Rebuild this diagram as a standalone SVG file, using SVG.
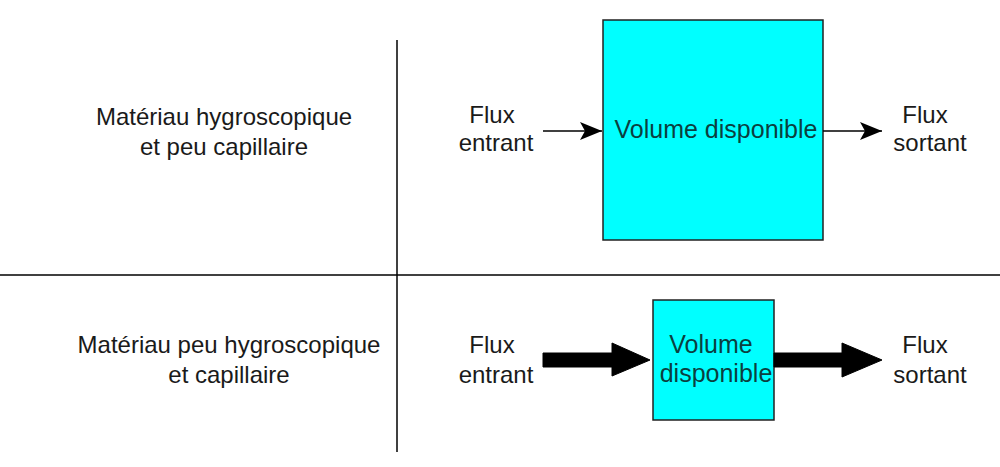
<svg xmlns="http://www.w3.org/2000/svg" width="1000" height="467" viewBox="0 0 1000 467">
  <style>
    .lbl { font-family: "Liberation Sans", Arial, sans-serif; font-size: 24px; fill: #1a1a1a; text-anchor: middle; }
    .box { fill: #00ffff; stroke: #222; stroke-width: 1.5; }
    .boxtxt { font-family: "Liberation Sans", Arial, sans-serif; font-size: 25px; fill: #0b3f3f; text-anchor: middle; }
    .sep { stroke: #000; stroke-width: 1.5; fill: none; }
    .thin { stroke: #000; stroke-width: 1.5; fill: none; }
    .fat { fill: #000; stroke: #000; stroke-width: 1; stroke-linejoin: miter; }
  </style>
  <defs>
    <marker id="arr" markerUnits="userSpaceOnUse" markerWidth="24" markerHeight="20" viewBox="0 0 24 20" refX="22" refY="10" orient="auto">
      <path d="M0,1 L22,10 L0,19 L5,10 Z" fill="#000"/>
    </marker>
  </defs>
  <rect width="1000" height="467" fill="#fff"/>

  <g id="separators">
    <line class="sep" x1="397" y1="40" x2="397" y2="452"/>
    <line class="sep" x1="0" y1="275" x2="1000" y2="275"/>
  </g>

  <g id="label-top">
    <text class="lbl" x="224" y="125">Matériau hygroscopique</text>
    <text class="lbl" x="224" y="155">et peu capillaire</text>
  </g>
  <g id="label-bottom">
    <text class="lbl" x="229" y="353">Matériau peu hygroscopique</text>
    <text class="lbl" x="229" y="383">et capillaire</text>
  </g>

  <g id="flux-entrant-top">
    <text class="lbl" x="492" y="123">Flux</text>
    <text class="lbl" x="496" y="151">entrant</text>
  </g>
  <g id="flux-sortant-top">
    <text class="lbl" x="925" y="123">Flux</text>
    <text class="lbl" x="930" y="151">sortant</text>
  </g>
  <g id="flux-entrant-bottom">
    <text class="lbl" x="492" y="353">Flux</text>
    <text class="lbl" x="496" y="383">entrant</text>
  </g>
  <g id="flux-sortant-bottom">
    <text class="lbl" x="925" y="353">Flux</text>
    <text class="lbl" x="930" y="383">sortant</text>
  </g>

  <g id="volume-top">
    <rect class="box" x="603" y="20" width="220" height="220"/>
    <text class="boxtxt" x="716" y="138">Volume disponible</text>
  </g>
  <g id="volume-bottom">
    <rect class="box" x="653" y="300" width="121" height="120"/>
    <text class="boxtxt" x="711" y="353">Volume</text>
    <text class="boxtxt" x="716" y="382">disponible</text>
  </g>

  <g id="connectors">
    <line class="thin" x1="543" y1="131" x2="602" y2="131" marker-end="url(#arr)"/>
    <line class="thin" x1="823" y1="131" x2="882" y2="131" marker-end="url(#arr)"/>
    <polygon class="fat" points="543,353 612,353 612,343 650,360 612,376 612,367 543,367"/>
    <polygon class="fat" points="774,353 842,353 842,343 882,360 842,377 842,367 774,367"/>
  </g>
</svg>
